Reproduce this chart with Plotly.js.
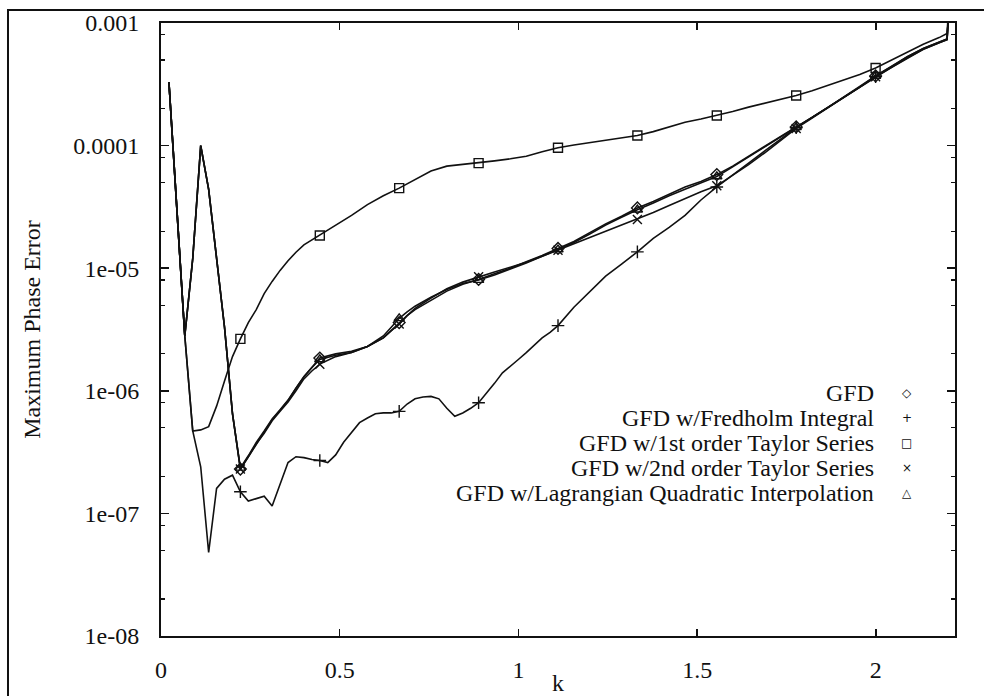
<!DOCTYPE html>
<html><head><meta charset="utf-8">
<script src="https://cdn.plot.ly/plotly-3.0.1.min.js"></script>
<style>html,body{margin:0;padding:0;background:#fff}#chart{width:984px;height:696px}</style>
</head><body><div id="chart"></div>
<script>
// ---------- data ----------
const seriesNames = ["GFD", "GFD w/Fredholm Integral", "GFD w/1st order Taylor Series",
  "GFD w/2nd order Taylor Series", "GFD w/Lagrangian Quadratic Interpolation"];

const kBundle = [0.0222,0.0444,0.0666,0.0888,0.1111,0.1333,0.1555,0.1777,0.2000,0.2221,0.2443,0.2665,0.2887,0.3109,0.3332,0.3554,0.3776,0.3998,0.4221,0.4443,0.4887,0.5331,0.5776,0.6220,0.6442,0.6664,0.6886,0.7108,0.7553,0.7997,0.8442,0.8886,0.9330,0.9775,1.0219,1.0663,1.1107,1.1552,1.1996,1.2440,1.2885,1.3328,1.3773,1.4217,1.4661,1.5106,1.5550,1.5994,1.6439,1.6883,1.7327,1.7771,1.8216,1.8660,1.9104,1.9549,1.9993,2.0437,2.0881,2.1326,2.1770,2.1992,2.2214];

const errGFD = [3.3e-4,3.1e-5,2.8e-6,1.2e-5,1.0e-4,4.4e-5,1.2e-5,3.3e-6,6.5e-7,2.3e-7,2.9e-7,3.7e-7,4.6e-7,5.8e-7,6.9e-7,8.3e-7,1.05e-6,1.3e-6,1.55e-6,1.85e-6,2.0e-6,2.1e-6,2.3e-6,2.7e-6,3.1e-6,3.6e-6,4.1e-6,4.6e-6,5.5e-6,6.5e-6,7.4e-6,8.1e-6,9.0e-6,1.0e-5,1.13e-5,1.27e-5,1.45e-5,1.65e-5,1.95e-5,2.3e-5,2.65e-5,3.1e-5,3.5e-5,4.0e-5,4.6e-5,5.1e-5,5.8e-5,6.8e-5,8.2e-5,9.8e-5,1.18e-4,1.42e-4,1.7e-4,2.05e-4,2.5e-4,3.0e-4,3.7e-4,4.4e-4,5.3e-4,6.2e-4,7.0e-4,7.4e-4,1e-2];

const err2nd = [3.3e-4,3.1e-5,2.8e-6,1.2e-5,1.0e-4,4.4e-5,1.2e-5,3.3e-6,6.5e-7,2.3e-7,2.9e-7,3.7e-7,4.5e-7,5.7e-7,6.8e-7,8.1e-7,1.0e-6,1.25e-6,1.45e-6,1.65e-6,1.9e-6,2.05e-6,2.3e-6,2.7e-6,3.1e-6,3.5e-6,4.1e-6,4.7e-6,5.7e-6,6.8e-6,7.7e-6,8.5e-6,9.3e-6,1.02e-5,1.12e-5,1.25e-5,1.4e-5,1.58e-5,1.78e-5,2.0e-5,2.25e-5,2.5e-5,2.85e-5,3.25e-5,3.7e-5,4.2e-5,4.7e-5,5.7e-5,7.0e-5,8.7e-5,1.1e-4,1.38e-4,1.68e-4,2.03e-4,2.45e-4,3.0e-4,3.65e-4,4.35e-4,5.2e-4,6.1e-4,6.9e-4,7.3e-4,1e-2];

const errLagr = [3.3e-4,3.1e-5,2.8e-6,1.2e-5,1.0e-4,4.4e-5,1.2e-5,3.3e-6,6.5e-7,2.35e-7,2.95e-7,3.8e-7,4.7e-7,5.9e-7,7.0e-7,8.4e-7,1.05e-6,1.3e-6,1.55e-6,1.8e-6,1.95e-6,2.05e-6,2.3e-6,2.8e-6,3.3e-6,3.9e-6,4.4e-6,4.9e-6,5.8e-6,6.7e-6,7.5e-6,8.0e-6,8.8e-6,9.8e-6,1.1e-5,1.25e-5,1.42e-5,1.62e-5,1.9e-5,2.25e-5,2.6e-5,3.0e-5,3.4e-5,3.9e-5,4.4e-5,5.0e-5,5.6e-5,6.7e-5,8.1e-5,9.7e-5,1.17e-4,1.41e-4,1.7e-4,2.05e-4,2.5e-4,3.0e-4,3.7e-4,4.4e-4,5.3e-4,6.2e-4,7.0e-4,7.4e-4,1e-2];

const kTaylor1 = [0.0222,0.0444,0.0666,0.0888,0.1111,0.1333,0.1555,0.1777,0.2000,0.2221,0.2443,0.2665,0.2887,0.3109,0.3332,0.3554,0.3776,0.3998,0.4221,0.4443,0.4887,0.5331,0.5776,0.6220,0.6664,0.7108,0.7553,0.7997,0.8442,0.8886,0.9330,0.9775,1.0219,1.0663,1.1107,1.1552,1.1996,1.2440,1.2885,1.3328,1.3773,1.4217,1.4661,1.5106,1.5550,1.5994,1.6439,1.6883,1.7327,1.7771,1.8216,1.8660,1.9104,1.9549,1.9993,2.0437,2.0881,2.1326,2.1770,2.1992,2.2214];
const errTaylor1 = [3.3e-4,3.1e-5,2.8e-6,4.7e-7,4.8e-7,5.1e-7,7.5e-7,1.2e-6,1.9e-6,2.65e-6,3.6e-6,4.6e-6,6.2e-6,7.8e-6,9.6e-6,1.15e-5,1.35e-5,1.55e-5,1.7e-5,1.85e-5,2.25e-5,2.7e-5,3.3e-5,3.9e-5,4.5e-5,5.3e-5,6.2e-5,6.8e-5,7.0e-5,7.2e-5,7.5e-5,7.8e-5,8.2e-5,8.9e-5,9.6e-5,1.01e-4,1.06e-4,1.11e-4,1.16e-4,1.21e-4,1.3e-4,1.42e-4,1.55e-4,1.65e-4,1.76e-4,1.9e-4,2.06e-4,2.22e-4,2.38e-4,2.56e-4,2.8e-4,3.1e-4,3.4e-4,3.8e-4,4.3e-4,5.0e-4,5.8e-4,6.7e-4,7.6e-4,8.2e-4,1e-2];

const kFredholm = [0.0222,0.0444,0.0666,0.0888,0.1111,0.1333,0.1555,0.1777,0.2000,0.2221,0.2443,0.2665,0.2887,0.3109,0.3332,0.3554,0.3776,0.3998,0.4221,0.4443,0.4665,0.4887,0.5109,0.5331,0.5554,0.5776,0.5998,0.6220,0.6442,0.6664,0.6886,0.7108,0.7330,0.7553,0.7775,0.7997,0.8219,0.8442,0.8664,0.8886,0.9108,0.9330,0.9553,0.9775,0.9997,1.0219,1.0441,1.0663,1.0885,1.1107,1.1552,1.1996,1.2440,1.2885,1.3328,1.3773,1.4217,1.4661,1.5106,1.5550,1.5994,1.6439,1.6883,1.7327,1.7771,1.8216,1.8660,1.9104,1.9549,1.9993,2.0437,2.0881,2.1326,2.1770,2.1992,2.2214];
const errFredholm = [3.3e-4,3.1e-5,2.8e-6,4.7e-7,2.4e-7,4.8e-8,1.6e-7,1.9e-7,2.05e-7,1.5e-7,1.26e-7,1.32e-7,1.38e-7,1.15e-7,1.7e-7,2.6e-7,2.9e-7,2.85e-7,2.75e-7,2.7e-7,2.6e-7,3.0e-7,3.8e-7,4.6e-7,5.5e-7,6.0e-7,6.5e-7,6.6e-7,6.6e-7,6.8e-7,7.8e-7,8.6e-7,8.9e-7,9.0e-7,8.6e-7,7.2e-7,6.2e-7,6.6e-7,7.2e-7,8.0e-7,9.5e-7,1.15e-6,1.4e-6,1.6e-6,1.8e-6,2.05e-6,2.35e-6,2.7e-6,3.0e-6,3.4e-6,4.8e-6,6.4e-6,8.6e-6,1.08e-5,1.36e-5,1.75e-5,2.15e-5,2.7e-5,3.6e-5,4.6e-5,5.8e-5,7.2e-5,9.0e-5,1.12e-4,1.4e-4,1.7e-4,2.05e-4,2.5e-4,3.0e-4,3.65e-4,4.35e-4,5.2e-4,6.1e-4,6.9e-4,7.3e-4,1e-2];

const xTickVals = [0, 0.5, 1, 1.5, 2];
const xTickText = ["0", "0.5", "1", "1.5", "2"];
const yTickVals = [1e-8, 1e-7, 1e-6, 1e-5, 1e-4, 1e-3];
const yTickText = ["1e-08", "1e-07", "1e-06", "1e-05", "0.0001", "0.001"];
const legendGlyphs = ["\u25C7", "+", "\u25A1", "\u00D7", "\u25B3"];

// ---------- build ----------
const FONT = "Liberation Serif, Times New Roman, serif";
const FS = 24;
const kMax = 2.2214, markerStep = kMax / 10;
const symbols = ["diamond-open", "cross-thin-open", "square-open", "x-thin-open", "triangle-up-open"];
const data = [
  [kBundle, errGFD], [kFredholm, errFredholm], [kTaylor1, errTaylor1],
  [kBundle, err2nd], [kBundle, errLagr]
];
function isMarker(k) {
  const m = k / markerStep, r = Math.round(m);
  return r >= 1 && r <= 9 && Math.abs(m - r) < 0.01;
}
const traces = [];
data.forEach(([ks, es], i) => {
  traces.push({x: ks, y: es, type: "scatter", mode: "lines", name: seriesNames[i],
    showlegend: false, line: {color: "#111", width: 1.6}});
});
data.forEach(([ks, es], i) => {
  const mx = [], my = [];
  ks.forEach((k, j) => { if (isMarker(k)) { mx.push(k); my.push(es[j]); } });
  traces.push({x: mx, y: my, type: "scatter", mode: "markers", name: seriesNames[i],
    showlegend: false,
    marker: {symbol: symbols[i], size: 9, color: "#111", line: {color: "#111", width: 1.4}}});
});

const minorVals = [];
for (let d = -8; d < -3; d++) [2, 5, 8].forEach(m => minorVals.push(m * Math.pow(10, d)));

const annotations = [];
const rowY = [0.3964, 0.3556, 0.3148, 0.2741, 0.2333];
seriesNames.forEach((n, i) => {
  annotations.push({xref: "paper", yref: "paper", x: 0.9005, y: rowY[i], xanchor: "right", yanchor: "middle",
    text: n, showarrow: false, font: {family: FONT, size: FS, color: "#111"}});
  annotations.push({xref: "paper", yref: "paper", x: 0.9395, y: rowY[i], xanchor: "center", yanchor: "middle",
    text: legendGlyphs[i], showarrow: false, font: {family: "DejaVu Sans", size: 12, color: "#111"}});
});

const layout = {
  width: 984, height: 696,
  margin: {l: 161, r: 29, t: 23, b: 60},
  paper_bgcolor: "#fff", plot_bgcolor: "#fff",
  showlegend: false,
  font: {family: FONT, size: FS, color: "#111"},
  xaxis: {
    range: [0, kMax], tickmode: "array", tickvals: xTickVals, ticktext: xTickText,
    ticks: "inside", ticklen: 7, tickwidth: 1.5, tickcolor: "#111",
    showline: true, linewidth: 2, linecolor: "#111", mirror: "ticks",
    showgrid: false, zeroline: false, ticklabelstandoff: 11,
    tickfont: {family: FONT, size: FS, color: "#111"},
    title: {text: "k", font: {family: FONT, size: FS, color: "#111"}, standoff: 3}
  },
  yaxis: {
    type: "log", range: [-8, -3], tickmode: "array", tickvals: yTickVals, ticktext: yTickText,
    ticks: "inside", ticklen: 8, tickwidth: 1.5, tickcolor: "#111",
    minor: {tickmode: "array", tickvals: minorVals, ticks: "inside", ticklen: 4, tickwidth: 1.2, tickcolor: "#111"},
    showline: true, linewidth: 2, linecolor: "#111", mirror: "ticks",
    showgrid: false, zeroline: false, ticklabelstandoff: 15,
    tickfont: {family: FONT, size: FS, color: "#111"},
    title: {text: "Maximum Phase Error", font: {family: FONT, size: FS, color: "#111"}, standoff: 26}
  },
  shapes: [{type: "rect", xref: "paper", yref: "paper", x0: -0.1927, x1: 1.06, y0: -0.12, y1: 1.0212,
    line: {color: "#111", width: 2}, fillcolor: "rgba(0,0,0,0)", layer: "above"}],
  annotations: annotations
};
Plotly.newPlot("chart", traces, layout, {staticPlot: true, displayModeBar: false});
</script>
</body></html>
